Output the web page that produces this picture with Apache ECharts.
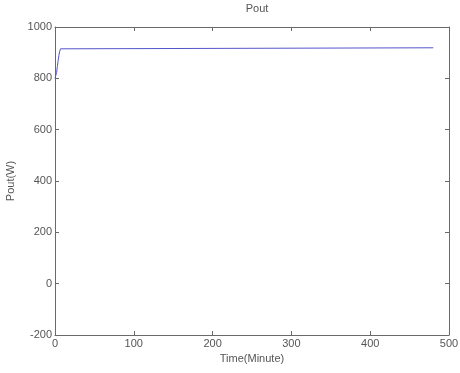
<!DOCTYPE html>
<html>
<head>
<meta charset="utf-8">
<script src="https://cdn.jsdelivr.net/npm/echarts@6/dist/echarts.min.js"></script>
<style>html,body{margin:0;padding:0;background:#fff}#c{width:460px;height:373px}</style>
</head>
<body>
<div id="c"></div>
<script>
var timeMin = [0, 1, 2, 3, 4, 5, 6, 7, 8, 9, 480];
var poutW = [800, 800, 822, 846, 870, 890, 906, 915, 919, 919, 919];
var xTicks = [0, 100, 200, 300, 400, 500];
var yTicks = [-200, 0, 200, 400, 600, 800, 1000];

var chart = echarts.init(document.getElementById('c'));
var font = 'Liberation Sans, Arial, sans-serif';
var axisCol = '#6a6a6a';
var txtCol = '#555';
var pts = timeMin.map(function (t, i) { return [t, poutW[i]]; });
function common() {
  return {
    axisLine: { show: true, onZero: false, lineStyle: { color: axisCol, width: 1 } },
    axisTick: { show: true, inside: true, length: 4, lineStyle: { color: axisCol } },
    splitLine: { show: false }
  };
}
var lbl = { fontFamily: font, fontSize: 11, color: txtCol, margin: 3,
  formatter: function (v) { return String(v); } };
chart.setOption({
  animation: false,
  backgroundColor: '#fff',
  title: { text: 'Pout', left: 252, top: -2, textAlign: 'center',
    textStyle: { fontFamily: font, fontSize: 11, fontWeight: 'normal', color: txtCol } },
  grid: { left: 55, right: 11, top: 27, bottom: 38, containLabel: false, outerBoundsMode: 'none' },
  xAxis: [
    Object.assign(common(), { type: 'value', min: xTicks[0], max: xTicks[xTicks.length - 1], interval: 100,
      position: 'bottom', name: 'Time(Minute)', nameLocation: 'middle', nameGap: 18,
      nameTextStyle: { fontFamily: font, fontSize: 11, color: txtCol },
      axisLabel: lbl }),
    Object.assign(common(), { type: 'value', min: xTicks[0], max: xTicks[xTicks.length - 1], interval: 100,
      position: 'top', axisLabel: { show: false } })
  ],
  yAxis: [
    Object.assign(common(), { type: 'value', min: yTicks[0], max: yTicks[yTicks.length - 1], interval: 200,
      position: 'left', name: 'Pout(W)', nameLocation: 'middle', nameGap: 34,
      nameTextStyle: { fontFamily: font, fontSize: 11, color: txtCol },
      axisLabel: lbl }),
    Object.assign(common(), { type: 'value', min: yTicks[0], max: yTicks[yTicks.length - 1], interval: 200,
      position: 'right', axisLabel: { show: false } })
  ],
  series: [{
    type: 'line', data: pts, showSymbol: false, symbol: 'none',
    lineStyle: { color: '#5555cc', width: 1 }, xAxisIndex: 0, yAxisIndex: 0
  }]
});
</script>
</body>
</html>
